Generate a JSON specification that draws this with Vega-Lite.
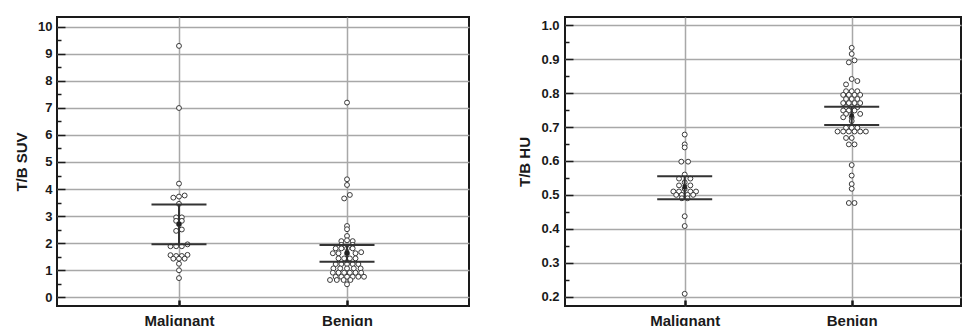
{
  "$schema": "https://vega.github.io/schema/vega-lite/v6.json",
  "padding": {"left": 13, "top": 16, "right": 0, "bottom": 0},
  "background": "white",
  "spacing": 46,
  "config": {
    "view": {"stroke": "#1a1a1a", "strokeWidth": 2},
    "axis": {
      "labelFont": "Liberation Sans", "labelFontWeight": "bold", "labelFontSize": 13, "labelColor": "#1a1a1a",
      "titleFont": "Liberation Sans", "titleFontWeight": "bold", "titleFontSize": 15, "titleColor": "#1a1a1a",
      "gridColor": "#a8a8a8", "gridWidth": 1.5, "gridOpacity": 1,
      "tickColor": "#1a1a1a", "domain": false
    }
  },
  "datasets": {
    "suv": [
      {"g":"Malignant","v":9.3,"s":0},{"g":"Malignant","v":7.0,"s":0},{"g":"Malignant","v":4.2,"s":0},
      {"g":"Malignant","v":3.68,"s":-1},{"g":"Malignant","v":3.72,"s":0},{"g":"Malignant","v":3.76,"s":1},
      {"g":"Malignant","v":3.45,"s":0},
      {"g":"Malignant","v":2.95,"s":-0.5},{"g":"Malignant","v":2.95,"s":0.5},
      {"g":"Malignant","v":2.82,"s":-0.5},{"g":"Malignant","v":2.82,"s":0.5},
      {"g":"Malignant","v":2.7,"s":0},
      {"g":"Malignant","v":2.45,"s":-0.5},{"g":"Malignant","v":2.5,"s":0.5},
      {"g":"Malignant","v":1.95,"s":1.5},{"g":"Malignant","v":1.88,"s":-1.5},{"g":"Malignant","v":1.88,"s":-0.5},{"g":"Malignant","v":1.88,"s":0.5},
      {"g":"Malignant","v":1.55,"s":-1.5},{"g":"Malignant","v":1.52,"s":-0.5},{"g":"Malignant","v":1.52,"s":0.5},{"g":"Malignant","v":1.56,"s":1.5},
      {"g":"Malignant","v":1.42,"s":-1},{"g":"Malignant","v":1.42,"s":0},{"g":"Malignant","v":1.42,"s":1},
      {"g":"Malignant","v":1.23,"s":0},{"g":"Malignant","v":0.99,"s":0},{"g":"Malignant","v":0.7,"s":0},
      {"g":"Benign","v":7.2,"s":0},{"g":"Benign","v":4.36,"s":0},{"g":"Benign","v":4.15,"s":0},
      {"g":"Benign","v":3.78,"s":0.5},{"g":"Benign","v":3.65,"s":-0.5},
      {"g":"Benign","v":2.63,"s":0},{"g":"Benign","v":2.51,"s":0},{"g":"Benign","v":2.26,"s":0},
      {"g":"Benign","v":2.07,"s":-1},{"g":"Benign","v":2.1,"s":0},{"g":"Benign","v":2.07,"s":1},
      {"g":"Benign","v":1.93,"s":-1},{"g":"Benign","v":1.93,"s":1},
      {"g":"Benign","v":1.8,"s":-2},{"g":"Benign","v":1.8,"s":-1},{"g":"Benign","v":1.8,"s":0},{"g":"Benign","v":1.8,"s":1},
      {"g":"Benign","v":1.62,"s":-2.5},{"g":"Benign","v":1.62,"s":-1.5},{"g":"Benign","v":1.62,"s":0},{"g":"Benign","v":1.62,"s":1.5},{"g":"Benign","v":1.66,"s":2.5},
      {"g":"Benign","v":1.43,"s":-1.5},{"g":"Benign","v":1.43,"s":-0.5},{"g":"Benign","v":1.43,"s":0.5},{"g":"Benign","v":1.43,"s":1.5},
      {"g":"Benign","v":1.22,"s":-2},{"g":"Benign","v":1.22,"s":-1},{"g":"Benign","v":1.22,"s":0},{"g":"Benign","v":1.22,"s":1},{"g":"Benign","v":1.22,"s":2},
      {"g":"Benign","v":1.06,"s":-2.4},{"g":"Benign","v":1.06,"s":-1.2},{"g":"Benign","v":1.06,"s":0},{"g":"Benign","v":1.06,"s":1.2},{"g":"Benign","v":1.06,"s":2.4},
      {"g":"Benign","v":0.9,"s":-2.5},{"g":"Benign","v":0.9,"s":-1.5},{"g":"Benign","v":0.9,"s":-0.5},{"g":"Benign","v":0.9,"s":0.5},{"g":"Benign","v":0.9,"s":1.5},{"g":"Benign","v":0.9,"s":2.5},
      {"g":"Benign","v":0.75,"s":-2},{"g":"Benign","v":0.75,"s":-1},{"g":"Benign","v":0.75,"s":0},{"g":"Benign","v":0.75,"s":1},{"g":"Benign","v":0.75,"s":2},{"g":"Benign","v":0.75,"s":3},
      {"g":"Benign","v":0.63,"s":-3},{"g":"Benign","v":0.63,"s":-1.8},{"g":"Benign","v":0.63,"s":-0.6},{"g":"Benign","v":0.63,"s":0.6},
      {"g":"Benign","v":0.47,"s":0}
    ],
    "hu": [
      {"g":"Malignant","v":0.678,"s":0},{"g":"Malignant","v":0.649,"s":0},{"g":"Malignant","v":0.64,"s":0},
      {"g":"Malignant","v":0.598,"s":-0.6},{"g":"Malignant","v":0.598,"s":0.6},
      {"g":"Malignant","v":0.56,"s":0},
      {"g":"Malignant","v":0.548,"s":-1},{"g":"Malignant","v":0.548,"s":1},
      {"g":"Malignant","v":0.537,"s":0},
      {"g":"Malignant","v":0.528,"s":-1},{"g":"Malignant","v":0.528,"s":1},
      {"g":"Malignant","v":0.518,"s":0},
      {"g":"Malignant","v":0.51,"s":-2},{"g":"Malignant","v":0.51,"s":-1},{"g":"Malignant","v":0.51,"s":1},{"g":"Malignant","v":0.51,"s":2},
      {"g":"Malignant","v":0.5,"s":-1.5},{"g":"Malignant","v":0.5,"s":-0.5},{"g":"Malignant","v":0.5,"s":0.5},{"g":"Malignant","v":0.5,"s":1.5},
      {"g":"Malignant","v":0.49,"s":-0.5},{"g":"Malignant","v":0.49,"s":0.5},
      {"g":"Malignant","v":0.437,"s":0},{"g":"Malignant","v":0.408,"s":0},{"g":"Malignant","v":0.208,"s":0},
      {"g":"Benign","v":0.934,"s":0},{"g":"Benign","v":0.916,"s":0},{"g":"Benign","v":0.897,"s":0.5},{"g":"Benign","v":0.891,"s":-0.5},
      {"g":"Benign","v":0.842,"s":0},{"g":"Benign","v":0.836,"s":1},{"g":"Benign","v":0.826,"s":-1},
      {"g":"Benign","v":0.806,"s":-1},{"g":"Benign","v":0.806,"s":0},{"g":"Benign","v":0.806,"s":1},
      {"g":"Benign","v":0.795,"s":-1.5},{"g":"Benign","v":0.795,"s":-0.5},{"g":"Benign","v":0.795,"s":0.5},{"g":"Benign","v":0.795,"s":1.5},
      {"g":"Benign","v":0.783,"s":-1},{"g":"Benign","v":0.783,"s":0},{"g":"Benign","v":0.783,"s":1},
      {"g":"Benign","v":0.771,"s":-1.5},{"g":"Benign","v":0.771,"s":-0.5},{"g":"Benign","v":0.771,"s":0.5},{"g":"Benign","v":0.771,"s":1.5},
      {"g":"Benign","v":0.759,"s":-1},{"g":"Benign","v":0.759,"s":0},{"g":"Benign","v":0.759,"s":1},
      {"g":"Benign","v":0.749,"s":-1.5},{"g":"Benign","v":0.749,"s":-0.5},{"g":"Benign","v":0.749,"s":0.5},
      {"g":"Benign","v":0.739,"s":-1},{"g":"Benign","v":0.739,"s":1.5},
      {"g":"Benign","v":0.729,"s":-1.5},{"g":"Benign","v":0.729,"s":0},
      {"g":"Benign","v":0.718,"s":0},
      {"g":"Benign","v":0.698,"s":-1},{"g":"Benign","v":0.698,"s":0},{"g":"Benign","v":0.698,"s":1},
      {"g":"Benign","v":0.687,"s":-2.5},{"g":"Benign","v":0.687,"s":-1.5},{"g":"Benign","v":0.687,"s":-0.5},{"g":"Benign","v":0.687,"s":0.5},{"g":"Benign","v":0.687,"s":1.5},{"g":"Benign","v":0.687,"s":2.5},
      {"g":"Benign","v":0.668,"s":-1},{"g":"Benign","v":0.668,"s":0},
      {"g":"Benign","v":0.649,"s":-0.5},{"g":"Benign","v":0.649,"s":0.5},
      {"g":"Benign","v":0.588,"s":0},{"g":"Benign","v":0.557,"s":0},{"g":"Benign","v":0.532,"s":0},{"g":"Benign","v":0.518,"s":0},
      {"g":"Benign","v":0.476,"s":-0.5},{"g":"Benign","v":0.476,"s":0.5}
    ],
    "suvStats": [
      {"g":"Malignant","lo":1.95,"hi":3.43,"mean":2.7},
      {"g":"Benign","lo":1.31,"hi":1.93,"mean":1.63}
    ],
    "huStats": [
      {"g":"Malignant","lo":0.487,"hi":0.555,"mean":0.523},
      {"g":"Benign","lo":0.706,"hi":0.76,"mean":0.734}
    ],
    "suvMinor": [{"t":0.5},{"t":1.5}],
    "huMinor": [{"t":0.25},{"t":0.35}]
  },
  "hconcat": [
    {
      "width": 412, "height": 289,
      "resolve": {"axis": {"y": "independent"}},
      "layer": [
        {
          "data": {"name": "suv"},
          "mark": {"type": "circle", "size": 24, "fill": "white", "fillOpacity": 1, "stroke": "#3a3a3a", "strokeWidth": 1, "opacity": 1},
          "encoding": {
            "x": {"field": "g", "type": "nominal", "sort": ["Malignant","Benign"],
              "scale": {"type": "point", "domain": ["Malignant","Benign"], "padding": 0.726},
              "axis": {"title": null, "labelAngle": 0, "grid": true, "tickSize": -6, "tickWidth": 2.5, "labelPadding": 13, "labelFontSize": 15}},
            "xOffset": {"field": "s", "type": "quantitative", "scale": {"domain": [-1, 1], "range": [-5.67, 5.67], "zero": false, "nice": false}},
            "y": {"field": "v", "type": "quantitative", "scale": {"domain": [-0.333, 10.37], "nice": false, "zero": false},
              "axis": {"orient": "left", "title": "T/B SUV", "values": [0,1,2,3,4,5,6,7,8,9,10], "grid": true, "tickSize": -8, "tickWidth": 1.5, "labelPadding": 13, "titlePadding": 8}}
          }
        },
        {
          "data": {"name": "suvMinor"},
          "mark": {"type": "point", "opacity": 0},
          "encoding": {
            "x": {"datum": "Malignant", "type": "nominal"},
            "y": {"field": "t", "type": "quantitative",
              "axis": {"orient": "left", "values": [-0.5,0.5,1.5,2.5,3.5,4.5,5.5,6.5,7.5,8.5,9.5], "labels": false, "grid": false, "tickSize": -4, "tickWidth": 1.5, "title": null}}
          }
        },
        {
          "data": {"name": "suvStats"},
          "mark": {"type": "rule", "color": "#333", "strokeWidth": 2},
          "encoding": {
            "x": {"field": "g", "type": "nominal"},
            "y": {"field": "lo", "type": "quantitative", "axis": null},
            "y2": {"field": "hi"}
          }
        },
        {
          "data": {"name": "suvStats"},
          "mark": {"type": "tick", "orient": "horizontal", "size": 55, "thickness": 2, "color": "#333", "opacity": 1},
          "encoding": {
            "x": {"field": "g", "type": "nominal"},
            "y": {"field": "lo", "type": "quantitative", "axis": null}
          }
        },
        {
          "data": {"name": "suvStats"},
          "mark": {"type": "tick", "orient": "horizontal", "size": 55, "thickness": 2, "color": "#333", "opacity": 1},
          "encoding": {
            "x": {"field": "g", "type": "nominal"},
            "y": {"field": "hi", "type": "quantitative", "axis": null}
          }
        },
        {
          "data": {"name": "suvStats"},
          "mark": {"type": "square", "size": 18, "color": "#222", "opacity": 1, "filled": true},
          "encoding": {
            "x": {"field": "g", "type": "nominal"},
            "y": {"field": "mean", "type": "quantitative", "axis": null}
          }
        }
      ]
    },
    {
      "width": 396, "height": 289,
      "resolve": {"axis": {"y": "independent"}},
      "layer": [
        {
          "data": {"name": "hu"},
          "mark": {"type": "circle", "size": 24, "fill": "white", "fillOpacity": 1, "stroke": "#3a3a3a", "strokeWidth": 1, "opacity": 1},
          "encoding": {
            "x": {"field": "g", "type": "nominal", "sort": ["Malignant","Benign"],
              "scale": {"type": "point", "domain": ["Malignant","Benign"], "padding": 0.6856, "align": 0.5227},
              "axis": {"title": null, "labelAngle": 0, "grid": true, "tickSize": -6, "tickWidth": 2.5, "labelPadding": 13, "labelFontSize": 15}},
            "xOffset": {"field": "s", "type": "quantitative", "scale": {"domain": [-1, 1], "range": [-5.67, 5.67], "zero": false, "nice": false}},
            "y": {"field": "v", "type": "quantitative", "scale": {"domain": [0.172, 1.025], "nice": false, "zero": false},
              "axis": {"orient": "left", "title": "T/B HU", "values": [0.2,0.3,0.4,0.5,0.6,0.7,0.8,0.9,1.0], "format": ".1f", "grid": true, "tickSize": -8, "tickWidth": 1.5, "labelPadding": 14, "titlePadding": 8}}
          }
        },
        {
          "data": {"name": "huMinor"},
          "mark": {"type": "point", "opacity": 0},
          "encoding": {
            "x": {"datum": "Malignant", "type": "nominal"},
            "y": {"field": "t", "type": "quantitative",
              "axis": {"orient": "left", "values": [0.15,0.25,0.35,0.45,0.55,0.65,0.75,0.85,0.95], "labels": false, "grid": false, "tickSize": -4, "tickWidth": 1.5, "title": null}}
          }
        },
        {
          "data": {"name": "huStats"},
          "mark": {"type": "rule", "color": "#333", "strokeWidth": 2},
          "encoding": {
            "x": {"field": "g", "type": "nominal"},
            "y": {"field": "lo", "type": "quantitative", "axis": null},
            "y2": {"field": "hi"}
          }
        },
        {
          "data": {"name": "huStats"},
          "mark": {"type": "tick", "orient": "horizontal", "size": 55, "thickness": 2, "color": "#333", "opacity": 1},
          "encoding": {
            "x": {"field": "g", "type": "nominal"},
            "y": {"field": "lo", "type": "quantitative", "axis": null}
          }
        },
        {
          "data": {"name": "huStats"},
          "mark": {"type": "tick", "orient": "horizontal", "size": 55, "thickness": 2, "color": "#333", "opacity": 1},
          "encoding": {
            "x": {"field": "g", "type": "nominal"},
            "y": {"field": "hi", "type": "quantitative", "axis": null}
          }
        },
        {
          "data": {"name": "huStats"},
          "mark": {"type": "square", "size": 18, "color": "#222", "opacity": 1, "filled": true},
          "encoding": {
            "x": {"field": "g", "type": "nominal"},
            "y": {"field": "mean", "type": "quantitative", "axis": null}
          }
        }
      ]
    }
  ]
}
